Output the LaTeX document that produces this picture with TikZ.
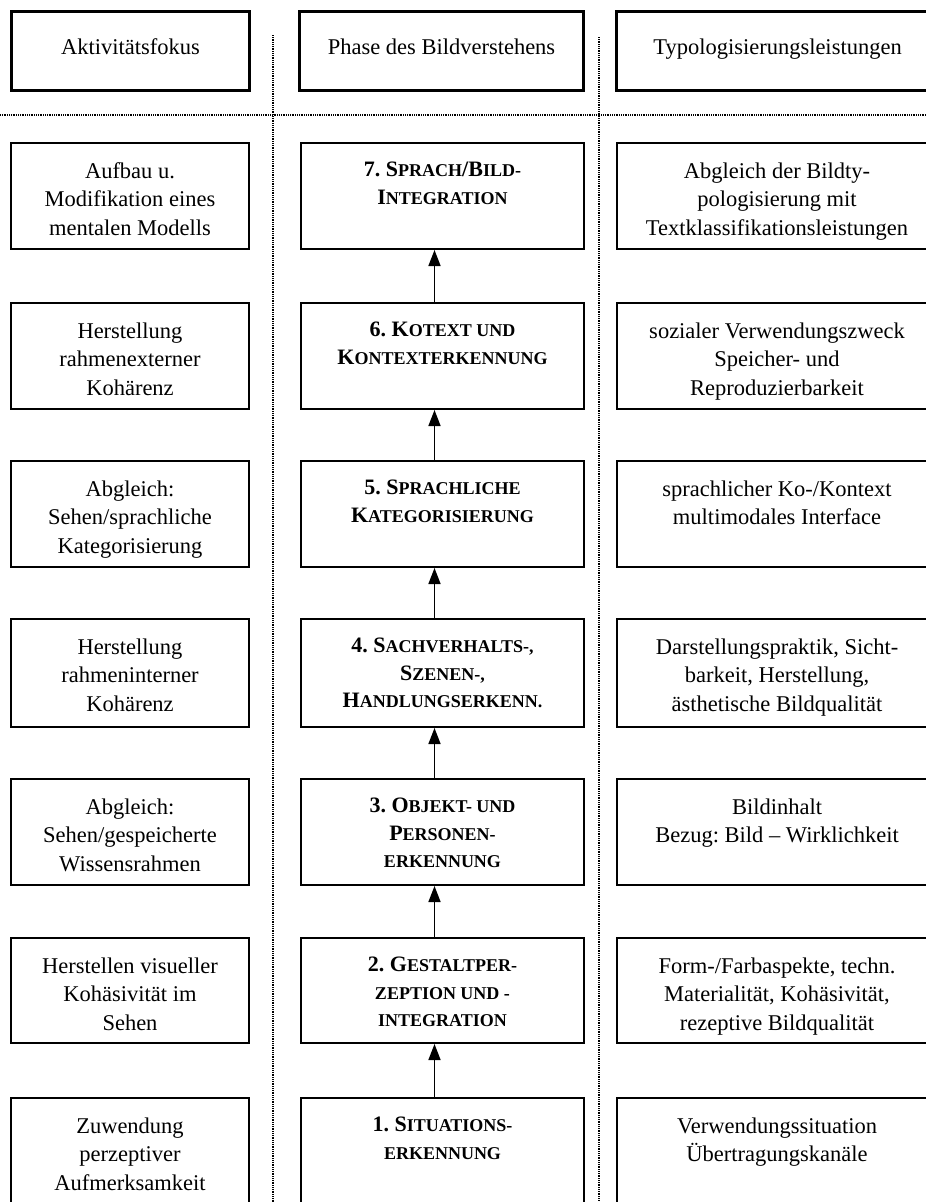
\documentclass[tikz,border=0pt]{standalone}
\usepackage{fontspec}
\setmainfont{Liberation Serif}
\usetikzlibrary{arrows.meta}
\frenchspacing

% text faces
\newcommand\txtfont{\fontsize{22.5}{28.5}\selectfont}
\newcommand\phfont{\bfseries\fontsize{22}{27.5}\selectfont}
% small capitals imitated by smaller upper-case letters
\newcommand\scp[1]{{\fontsize{18}{18}\selectfont #1}}

\tikzset{
  headbox/.style={draw, line width=3pt, inner sep=0pt, text height=14pt, text depth=8pt, font=\txtfont},
  cellbox/.style={draw, line width=2pt, inner sep=0pt},
  plaintext/.style={anchor=north, inner sep=0pt, align=center, font=\txtfont},
  phasetext/.style={anchor=north, inner sep=0pt, align=center, font=\phfont},
  uparrow/.style={line width=1.5pt, -{Triangle[length=16pt,width=12pt]}},
  guide/.style={line width=1.4pt, dash pattern=on 1pt off 0.8pt}
}

% one row: #1 index, #2 top edge, #3 box height, #4 left, #5 middle, #6 right
\newcommand\stagerow[6]{%
  \node[cellbox, minimum width=238pt, minimum height=#3pt, anchor=north west] (l#1) at (10,#2) {};
  \node[plaintext] (lt#1) at ([yshift=-16pt]l#1.north) {\strut #4};
  \node[cellbox, minimum width=283pt, minimum height=#3pt, anchor=north west] (m#1) at (300,#2) {};
  \node[phasetext] (mt#1) at ([yshift=-15.5pt]m#1.north) {\strut #5};
  \node[cellbox, minimum width=320pt, minimum height=#3pt, anchor=north west] (r#1) at (616,#2) {};
  \node[plaintext] (rt#1) at ([yshift=-16pt]r#1.north) {\strut #6};
}

\begin{document}
\begin{tikzpicture}[x=1pt, y=-1pt]
  \useasboundingbox (0,0) rectangle (926,1202);
  \clip (0,0) rectangle (926,1202);

  % column separators and header rule
  \coordinate (vl top) at (273,35);
  \coordinate (vl bot) at (273,1202);
  \coordinate (vr top) at (599,37);
  \coordinate (vr bot) at (599,1202);
  \coordinate (hl west) at (0,115);
  \coordinate (hl east) at (926,115);
  \draw[guide] (vl top) -- (vl bot);
  \draw[guide] (vr top) -- (vr bot);
  \draw[guide] (hl west) -- (hl east);

  % column headings
  \node[headbox, minimum width=238pt, minimum height=79pt, anchor=north west] (hl) at (10,10) {Aktivitätsfokus};
  \node[headbox, minimum width=284pt, minimum height=79pt, anchor=north west] (hm) at (298,10) {Phase des Bildverstehens};
  \node[headbox, minimum width=322pt, minimum height=79pt, anchor=north west] (hr) at (615,10) {Typologisierungsleistungen};

  % the seven phases
  \stagerow{7}{142}{106}
    {Aufbau u.\\Modifikation eines\\mentalen Modells}
    {7. S\scp{PRACH}/B\scp{ILD-}\\I\scp{NTEGRATION}}
    {Abgleich der Bildty-\\pologisierung mit\\Textklassifikationsleistungen}
  \stagerow{6}{302}{106}
    {Herstellung\\rahmenexterner\\Kohärenz}
    {6. K\scp{OTEXT UND}\\K\scp{ONTEXTERKENNUNG}}
    {sozialer Verwendungszweck\\Speicher- und\\Reproduzierbarkeit}
  \stagerow{5}{460}{106}
    {Abgleich:\\Sehen/sprachliche\\Kategorisierung}
    {5. S\scp{PRACHLICHE}\\K\scp{ATEGORISIERUNG}}
    {sprachlicher Ko-/Kontext\\multimodales Interface}
  \stagerow{4}{618}{108}
    {Herstellung\\rahmeninterner\\Kohärenz}
    {4. S\scp{ACHVERHALTS-,}\\S\scp{ZENEN-,}\\H\scp{ANDLUNGSERKENN.}}
    {Darstellungspraktik, Sicht-\\barkeit, Herstellung,\\ästhetische Bildqualität}
  \stagerow{3}{778}{106}
    {Abgleich:\\Sehen/gespeicherte\\Wissensrahmen}
    {3. O\scp{BJEKT- UND}\\P\scp{ERSONEN-}\\\scp{ERKENNUNG}}
    {Bildinhalt\\Bezug: Bild -- Wirklichkeit}
  \stagerow{2}{937}{105}
    {Herstellen visueller\\Kohäsivität im\\Sehen}
    {2. G\scp{ESTALTPER-}\\\scp{ZEPTION UND -}\\\scp{INTEGRATION}}
    {Form-/Farbaspekte, techn.\\Materialität, Kohäsivität,\\rezeptive Bildqualität}
  \stagerow{1}{1097}{130}
    {Zuwendung\\perzeptiver\\Aufmerksamkeit}
    {1. S\scp{ITUATIONS-}\\\scp{ERKENNUNG}}
    {Verwendungssituation\\Übertragungskanäle}

  % upward flow between the phases
  \foreach \a/\b in {1/2,2/3,3/4,4/5,5/6,6/7}
    \draw[uparrow] ([xshift=-8pt]m\a.north) -- ([xshift=-8pt]m\b.south);
\end{tikzpicture}
\end{document}
